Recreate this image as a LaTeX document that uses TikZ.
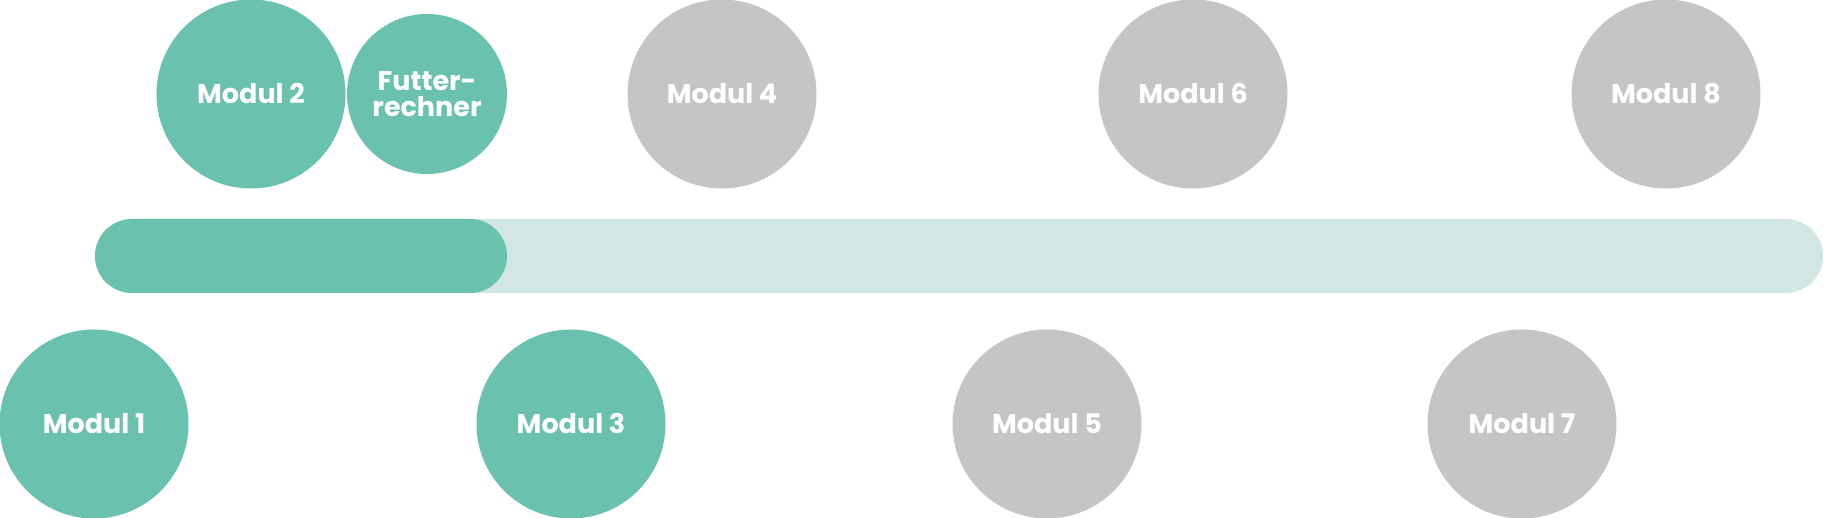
\documentclass[tikz,border=0pt]{standalone}
\usepackage{fontspec}
\setmainfont{Poppins}
\definecolor{modgreen}{HTML}{6AC2AE}
\definecolor{modlight}{HTML}{D2E6E3}
\definecolor{modgrey}{HTML}{C4C5C7}
\begin{document}
\begin{tikzpicture}[x=1pt, y=-1pt,
	module/.style={circle, minimum size=189pt, inner sep=0pt, text=white, font=\fontsize{27}{30}\selectfont\bfseries, align=center},
	done/.style={module, fill=modgreen},
	open/.style={module, fill=modgrey}]
			\useasboundingbox (0,0) rectangle (1824,518);
			
			\fill[modlight, rounded corners=37pt] (95,219) rectangle (1823,293);
			\fill[modgreen, rounded corners=37pt] (95,219) rectangle (507,293);
			
			\node[done] (m1) at (94,424) {Modul 1};
			\node[done] (m2) at (251,94) {Modul 2};
			\node[done, minimum size=160pt] (calc) at (427,94) {Futter-\\[-4pt]rechner};
			\node[done] (m3) at (571,424) {Modul 3};
			
			\foreach \name/\x/\y/\txt in {m4/722/94/4, m5/1047/424/5, m6/1193/94/6, m7/1522/424/7, m8/1666/94/8}
				\node[open] (\name) at (\x,\y) {Modul \txt};
		\end{tikzpicture}
\end{document}
